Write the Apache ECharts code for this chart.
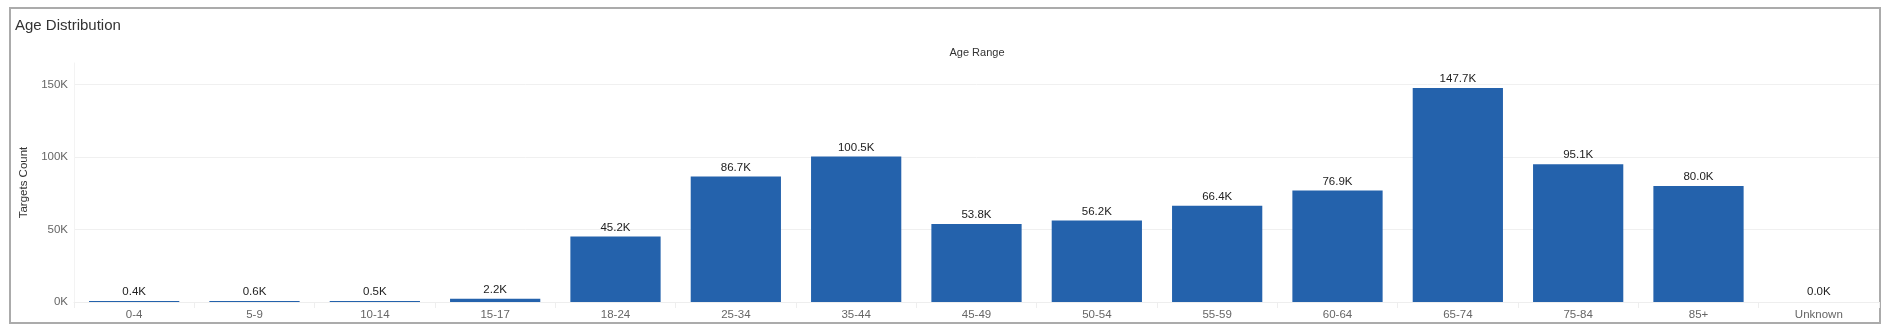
<!DOCTYPE html>
<html>
<head>
<meta charset="utf-8">
<script src="https://cdn.jsdelivr.net/npm/echarts@6/dist/echarts.min.js"></script>
<style>
html, body { margin: 0; padding: 0; background: #fff; }
#chart { width: 1889px; height: 336px; }
</style>
</head>
<body>
<div id="chart"></div>
<script>
const chartTitle = 'Age Distribution';
const xAxisTitle = 'Age Range';
const yAxisTitle = 'Targets Count';
const categories = ['0-4', '5-9', '10-14', '15-17', '18-24', '25-34', '35-44', '45-49', '50-54', '55-59', '60-64', '65-74', '75-84', '85+', 'Unknown'];
const targetsCount = [400, 600, 500, 2200, 45200, 86700, 100500, 53800, 56200, 66400, 76900, 147700, 95100, 80000, 0];
const yTickStep = 50000;
const yAxisMax = 165000;

const FONT = 'Arial, "Liberation Sans", sans-serif';
const fmtK = v => (v / 1000).toFixed(1) + 'K';

const chart = echarts.init(document.getElementById('chart'), null, { renderer: 'canvas' });
chart.setOption({
  animation: false,
  backgroundColor: '#ffffff',
  title: {
    text: chartTitle,
    left: 10,
    top: 13,
    textStyle: { fontFamily: FONT, fontSize: 15, fontWeight: 'normal', color: '#333333' }
  },
  graphic: [
    {
      type: 'rect',
      shape: { x: 10, y: 8, width: 1870, height: 315 },
      style: { fill: 'none', stroke: '#ababab', lineWidth: 2 },
      silent: true
    },
    {
      type: 'text',
      x: 977, y: 53,
      style: {
        text: xAxisTitle, fontFamily: FONT, fontSize: 11, fill: '#333333',
        align: 'center', verticalAlign: 'middle'
      },
      silent: true
    }
  ],
  grid: { left: 74, right: 10, top: 63, bottom: 34, containLabel: false },
  xAxis: {
    type: 'category',
    data: categories,
    axisLine: { show: true, lineStyle: { color: '#eeeeee', width: 1 } },
    axisTick: { show: true, length: 6, lineStyle: { color: '#eeeeee' } },
    axisLabel: { fontFamily: FONT, fontSize: 11.5, color: '#666666', margin: 7 }
  },
  yAxis: {
    type: 'value',
    min: 0,
    max: yAxisMax,
    interval: yTickStep,
    name: yAxisTitle,
    nameLocation: 'middle',
    nameGap: 44,
    nameTextStyle: { fontFamily: FONT, fontSize: 11.5, color: '#333333' },
    axisLine: { show: true, lineStyle: { color: '#f3f3f3', width: 1 } },
    axisTick: { show: false },
    axisLabel: {
      fontFamily: FONT, fontSize: 11.5, color: '#666666', margin: 6,
      formatter: v => (v % yTickStep === 0 ? (v / 1000) + 'K' : '')
    },
    splitLine: {
      show: true,
      lineStyle: { color: ['#f0f0f0', '#f0f0f0', '#f0f0f0', '#f0f0f0', 'rgba(0,0,0,0)'], width: 1 }
    }
  },
  series: [{
    type: 'bar',
    data: targetsCount.map(v => (v === 0 ? { value: v, itemStyle: { color: 'rgba(0,0,0,0)' } } : { value: v })),
    barCategoryGap: '25%',
    barMinHeight: 1,
    itemStyle: { color: '#2462ac' },
    label: {
      show: true,
      position: 'top',
      distance: 3,
      fontFamily: FONT,
      fontSize: 11.5,
      color: '#222222',
      formatter: p => fmtK(p.value)
    }
  }]
});
</script>
</body>
</html>
